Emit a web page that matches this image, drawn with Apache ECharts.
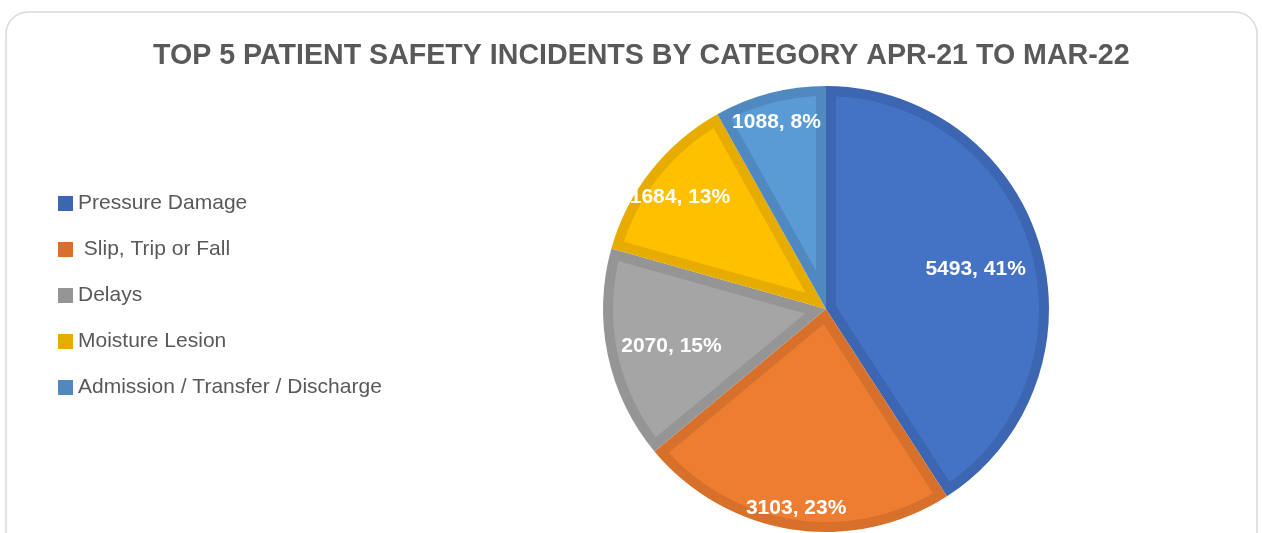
<!DOCTYPE html>
<html>
<head>
<meta charset="utf-8">
<script src="https://cdn.jsdelivr.net/npm/echarts@6/dist/echarts.min.js"></script>
<style>
  html, body { margin: 0; padding: 0; background: #fff; }
  #chart { width: 1262px; height: 533px; }
</style>
</head>
<body>
<div id="chart"></div>
<script>
// data
var categories = ['Pressure Damage', ' Slip, Trip or Fall', 'Delays', 'Moisture Lesion', 'Admission / Transfer / Discharge'];
var incidents = [5493, 3103, 2070, 1684, 1088];

// look
var fillColors = ['#4472C4', '#ED7D31', '#A5A5A5', '#FFC000', '#5B9BD5'];
var edgeColors = ['#3C66B2', '#D6702B', '#959595', '#E6AD00', '#5089C0'];
var labelRadius = [0.686, 0.87, 0.695, 0.821, 0.869]; // where Excel put each label, fraction of radius

var cx = 826, cy = 309, R = 223, bw = 10;

var total = incidents.reduce(function (a, b) { return a + b; }, 0);
var startAngles = [], sweeps = [];
var acc = 0;
incidents.forEach(function (v) {
    startAngles.push(acc / total * 2 * Math.PI);
    sweeps.push(v / total * 2 * Math.PI);
    acc += v;
});

// light part of each slice, inset by the border width (Excel draws the edge inside the slice)
function insetSlice(params, api) {
    var i = params.dataIndex;
    var a1 = startAngles[i], a2 = a1 + sweeps[i];
    var rho = R - bw;
    var mid = (a1 + a2) / 2;
    var apex = bw / Math.sin(sweeps[i] / 2);
    var pts = [[cx + apex * Math.sin(mid), cy - apex * Math.cos(mid)]];
    var p1 = a1 + Math.asin(bw / rho), p2 = a2 - Math.asin(bw / rho);
    for (var k = 0; k <= 80; k++) {
        var a = p1 + (p2 - p1) * k / 80;
        pts.push([cx + rho * Math.sin(a), cy - rho * Math.cos(a)]);
    }
    return { type: 'polygon', shape: { points: pts }, style: { fill: fillColors[i] } };
}

var myChart = echarts.init(document.getElementById('chart'));

var option = {
    backgroundColor: '#fff',
    animation: false,
    title: {
        text: 'TOP 5 PATIENT SAFETY INCIDENTS BY CATEGORY APR-21 TO MAR-22',
        left: 148,
        top: 37,
        textStyle: {
            fontFamily: 'Liberation Sans',
            fontSize: 28.6,
            fontWeight: 'bold',
            color: '#595959'
        }
    },
    graphic: [{
        type: 'rect',
        shape: { x: 6, y: 12, width: 1251, height: 580, r: 22 },
        style: { fill: 'none', stroke: '#d9d9d9', lineWidth: 1.5 },
        z: -1
    }],
    legend: {
        orient: 'vertical',
        left: 58,
        top: 193,
        padding: 0,
        itemWidth: 15,
        itemHeight: 15,
        itemGap: 25,
        icon: 'rect',
        textStyle: {
            fontFamily: 'Liberation Sans',
            fontSize: 21,
            lineHeight: 20,
            color: '#595959'
        },
        data: categories.map(function (c, i) {
            return { name: c, itemStyle: { color: edgeColors[i], borderWidth: 0 } };
        })
    },
    series: [{
        // dark edge colour, full slice
        type: 'pie',
        z: 2,
        center: [cx, cy],
        radius: [0, R],
        startAngle: 90,
        clockwise: true,
        label: { show: false },
        labelLine: { show: false },
        emphasis: { disabled: true },
        data: categories.map(function (c, i) {
            return { name: c, value: incidents[i], itemStyle: { color: edgeColors[i] } };
        })
    }, {
        type: 'custom',
        z: 3,
        coordinateSystem: 'none',
        renderItem: insetSlice,
        data: incidents
    }, {
        // labels on top
        type: 'pie',
        z: 4,
        center: [cx, cy],
        radius: [0, R],
        startAngle: 90,
        clockwise: true,
        percentPrecision: 0,
        itemStyle: { color: 'transparent' },
        label: {
            show: true,
            position: 'inside',
            formatter: '{c}, {d}%',
            color: '#fff',
            fontFamily: 'Liberation Sans',
            fontWeight: 'bold',
            fontSize: 21
        },
        labelLine: { show: false },
        labelLayout: function (p) {
            var i = p.dataIndex;
            var d = (labelRadius[i] - 0.5) * R;
            var m = startAngles[i] + sweeps[i] / 2;
            return { dx: d * Math.sin(m), dy: 4 - d * Math.cos(m) };
        },
        emphasis: { disabled: true },
        data: categories.map(function (c, i) {
            return { name: c, value: incidents[i] };
        })
    }]
};

myChart.setOption(option);
</script>
</body>
</html>
